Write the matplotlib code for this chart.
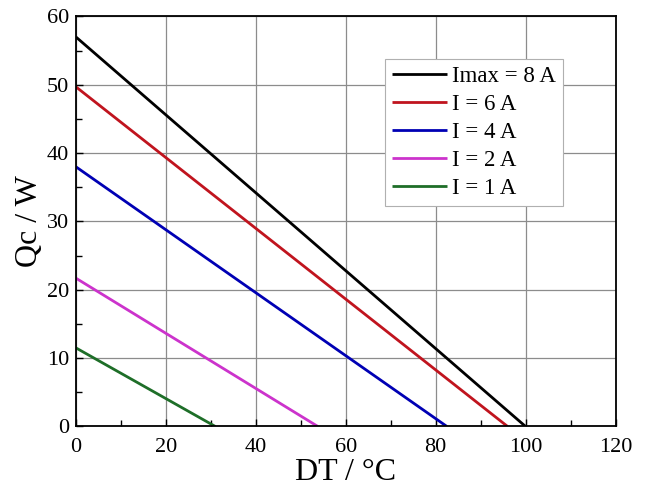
import numpy as np
import matplotlib.pyplot as plt
from matplotlib.ticker import MultipleLocator

plt.rcParams['font.family'] = ['Liberation Serif', 'DejaVu Serif']

# Qc at DT = 0 and DT at Qc = 0 for each current
labels = ['Imax = 8 A', 'I = 6 A', 'I = 4 A', 'I = 2 A', 'I = 1 A']
qc_max = [57.0, 49.7, 38.0, 21.7, 11.5]
dt_max = [100.0, 96.0, 82.5, 53.8, 31.0]
colors = ['#000000', '#C0141E', '#0000B4', '#CC33CC', '#1E6E28']

fig = plt.figure(figsize=(6.46, 4.91), dpi=100)
ax = fig.add_axes([0.1176, 0.1314, 0.8352, 0.835])

for lab, q0, d0, c in zip(labels, qc_max, dt_max, colors):
    ax.plot([0, d0], [q0, 0], color=c, lw=2.0, label=lab, solid_capstyle='butt')

ax.set_xlim(0, 120)
ax.set_ylim(0, 60)
ax.xaxis.set_major_locator(MultipleLocator(20))
ax.xaxis.set_minor_locator(MultipleLocator(10))
ax.yaxis.set_major_locator(MultipleLocator(10))
ax.yaxis.set_minor_locator(MultipleLocator(5))
ax.tick_params(which='both', direction='in', top=False, right=False, labelsize=16)
ax.tick_params(axis='x', which='major', pad=8)
ax.tick_params(axis='y', which='major', pad=5)
ax.tick_params(which='major', length=5, width=1)
ax.tick_params(which='minor', length=4, width=1)
ax.grid(True, which='major', color='#8c8c8c', lw=0.9)
for s in ax.spines.values():
    s.set_linewidth(1.3)

ax.set_xlabel('DT / \u00b0C', fontsize=23, labelpad=1)
ax.set_ylabel('Qc / W', fontsize=23, labelpad=2)

leg = ax.legend(loc='upper right', bbox_to_anchor=(0.903, 0.896), fontsize=16.5,
                fancybox=False, framealpha=1, edgecolor='#b0b0b0',
                handlelength=2.4, handletextpad=0.25, labelspacing=0.3,
                borderpad=0.3, borderaxespad=0)
leg.get_frame().set_linewidth(0.8)

fig.savefig('out.png', dpi=100)
